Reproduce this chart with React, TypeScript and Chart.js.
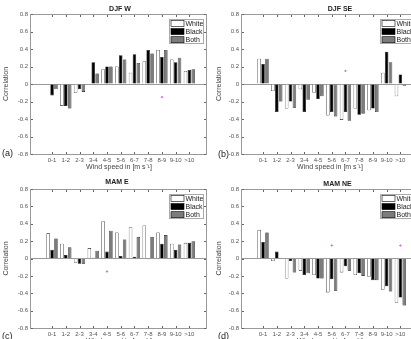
import React, { useEffect, useRef } from 'react';
import { Chart, registerables } from 'chart.js';

Chart.register(...registerables);
Chart.defaults.font.family = "'Liberation Sans', Arial, Helvetica, sans-serif";

// ---------- data ----------
const categories = ['0-1', '1-2', '2-3', '3-4', '4-5', '5-6', '6-7', '7-8', '8-9', '9-10', '>10'];
const seriesNames = ['White', 'Black', 'Both'];
const yMin = -0.8;
const yMax = 0.8;
const yStep = 0.2;

// (a) DJF W
const djfWWhite = [-0.005, -0.25, -0.1, 0.0, 0.17, 0.2, 0.13, 0.26, 0.39, 0.28, 0.15];
const djfWBlack = [-0.13, -0.25, -0.06, 0.25, 0.2, 0.33, 0.34, 0.39, 0.31, 0.25, 0.16];
const djfWBoth = [-0.06, -0.28, -0.09, 0.12, 0.2, 0.28, 0.24, 0.35, 0.39, 0.3, 0.17];
const djfWMarkCat = [9];
const djfWMarkVal = [-0.15];

// (b) DJF SE
const djfSEWhite = [0.29, -0.08, -0.28, -0.06, -0.1, -0.36, -0.41, -0.28, -0.3, 0.13, -0.14];
const djfSEBlack = [0.23, -0.32, -0.2, -0.32, -0.17, -0.32, -0.32, -0.35, -0.28, 0.37, 0.11];
const djfSEBoth = [0.29, -0.2, -0.27, -0.18, -0.14, -0.37, -0.42, -0.34, -0.32, 0.25, -0.02];
const djfSEMarkCat = [7];
const djfSEMarkVal = [0.15];

// (c) MAM E
const mamEWhite = [0.29, 0.17, -0.05, 0.12, 0.43, 0.3, 0.36, 0.38, 0.3, 0.17, 0.18];
const mamEBlack = [0.1, 0.04, -0.06, 0.01, 0.08, 0.03, 0.02, -0.01, 0.17, 0.1, 0.18];
const mamEBoth = [0.23, 0.13, -0.06, 0.09, 0.32, 0.22, 0.25, 0.25, 0.27, 0.16, 0.2];
const mamEMarkCat = [5];
const mamEMarkVal = [-0.15];

// (d) MAM NE
const mamNEWhite = [0.33, -0.03, -0.23, -0.14, -0.19, -0.39, -0.16, -0.19, -0.21, -0.36, -0.51];
const mamNEBlack = [0.19, 0.08, -0.03, -0.19, -0.23, -0.24, -0.09, -0.17, -0.25, -0.32, -0.45];
const mamNEBoth = [0.3, 0.01, -0.16, -0.17, -0.23, -0.37, -0.14, -0.2, -0.25, -0.38, -0.54];
const mamNEMarkCat = [6, 11];
const mamNEMarkVal = [0.15, 0.15];

const xTitleText = 'Wind speed in [m s\u207B\u00B9]';
const yTitleText = 'Correlation';

// ---------- styles ----------
const seriesColors = ['#ffffff', '#000000', '#7c7c7c'];
const boxColor = '#9a9a9a';
const tickTextColor = '#555555';
const darkText = '#222222';

type PanelCfg = {
  title: string;
  letter: string;
  series: number[][];
  markCat: number[];
  markVal: number[];
  left: number;
  top: number;
  width: number;
  area: { l: number; t: number; r: number; b: number };
  titleX: number;
  titleY: number;
  letterX: number;
  letterY: number;
};

const panels: PanelCfg[] = [
  {
    title: 'DJF W', letter: '(a)', series: [djfWWhite, djfWBlack, djfWBoth],
    markCat: djfWMarkCat, markVal: djfWMarkVal,
    left: 0, top: 0, width: 212, area: { l: 31, t: 14, r: 207, b: 154 },
    titleX: 120, titleY: 9.5, letterX: 2, letterY: 154,
  },
  {
    title: 'DJF SE', letter: '(b)', series: [djfSEWhite, djfSEBlack, djfSEBoth],
    markCat: djfSEMarkCat, markVal: djfSEMarkVal,
    left: 213, top: 0, width: 215, area: { l: 29, t: 14, r: 205, b: 154 },
    titleX: 127, titleY: 9.5, letterX: 5, letterY: 155,
  },
  {
    title: 'MAM E', letter: '(c)', series: [mamEWhite, mamEBlack, mamEBoth],
    markCat: mamEMarkCat, markVal: mamEMarkVal,
    left: 0, top: 175, width: 212, area: { l: 31, t: 14, r: 207, b: 153 },
    titleX: 117, titleY: 7.5, letterX: 2, letterY: 161.5,
  },
  {
    title: 'MAM NE', letter: '(d)', series: [mamNEWhite, mamNEBlack, mamNEBoth],
    markCat: mamNEMarkCat, markVal: mamNEMarkVal,
    left: 213, top: 175, width: 215, area: { l: 29, t: 14, r: 205, b: 153 },
    titleX: 124.5, titleY: 9, letterX: 5, letterY: 161.5,
  },
];

const decorPlugin = {
  id: 'decor',
  afterDraw(chart: any, _args: any, opts: any) {
    const { ctx, chartArea } = chart;
    const { left, top, right, bottom } = chartArea;
    const xs = chart.scales.x;
    const ys = chart.scales.y;
    ctx.save();
    // box
    ctx.strokeStyle = boxColor;
    ctx.lineWidth = 1;
    ctx.strokeRect(Math.round(left) - 0.5, Math.round(top) + 0.5, Math.round(right - left), Math.round(bottom - top));
    // inward ticks
    ctx.strokeStyle = '#666';
    ctx.beginPath();
    for (let i = 1; i <= categories.length; i++) {
      const px = Math.round(xs.getPixelForValue(i)) + 0.5;
      ctx.moveTo(px, bottom);
      ctx.lineTo(px, bottom - 2);
      ctx.moveTo(px, top + 1);
      ctx.lineTo(px, top + 3);
    }
    for (let v = yMin; v <= yMax + 1e-9; v += yStep) {
      const py = Math.round(ys.getPixelForValue(v)) + 0.5;
      ctx.moveTo(left, py);
      ctx.lineTo(left + 2, py);
      ctx.moveTo(right - 1, py);
      ctx.lineTo(right - 3, py);
    }
    ctx.stroke();
    // title
    ctx.fillStyle = darkText;
    ctx.font = "bold 7px 'Liberation Sans', Arial, sans-serif";
    ctx.textAlign = 'center';
    ctx.textBaseline = 'middle';
    ctx.fillText(opts.title, opts.titleX, opts.titleY);
    // letter
    ctx.font = "9px 'Liberation Sans', Arial, sans-serif";
    ctx.textAlign = 'left';
    ctx.fillText(opts.letter, opts.letterX, opts.letterY);
    // legend (inside, upper right)
    const lw = 34;
    const lh = 24;
    const lx = Math.round(right - 38) + 0.5;
    const ly = Math.round(top + 5) + 0.5;
    ctx.fillStyle = '#ffffff';
    ctx.fillRect(lx, ly, lw, lh);
    ctx.strokeStyle = '#aaaaaa';
    ctx.strokeRect(lx, ly, lw, lh);
    const ds = chart.data.datasets.filter((d: any) => d.type === 'bar');
    ds.forEach((d: any, k: number) => {
      const cy = ly + 4 + k * 8.1;
      ctx.fillStyle = d.backgroundColor;
      ctx.fillRect(lx + 1.5, cy - 3, 13, 6);
      ctx.strokeStyle = '#000';
      ctx.lineWidth = 0.6;
      ctx.strokeRect(lx + 1.5, cy - 3, 13, 6);
      ctx.fillStyle = darkText;
      ctx.font = "7px 'Liberation Sans', Arial, sans-serif";
      ctx.textAlign = 'left';
      ctx.textBaseline = 'middle';
      ctx.fillText(d.label, lx + 16, cy + 0.5);
    });
    ctx.restore();
  },
};

function Panel({ cfg }: { cfg: PanelCfg }) {
  const ref = useRef<HTMLCanvasElement>(null);
  const height = cfg.area.b + 21;
  useEffect(() => {
    const canvas = ref.current;
    if (!canvas) return;
    const barSets = cfg.series.map((vals, k) => ({
      type: 'bar' as const,
      label: seriesNames[k],
      data: vals.map((v, i) => ({ x: i + 1, y: v })),
      backgroundColor: seriesColors[k],
      borderColor: '#000000',
      borderWidth: 0.6,
      categoryPercentage: 0.85,
      barPercentage: 0.9,
      order: 2,
    }));
    const markSet = {
      type: 'scatter' as const,
      label: 'marker',
      data: cfg.markCat.map((c, i) => ({ x: c, y: cfg.markVal[i] })),
      pointRadius: 1.1,
      pointStyle: 'cross' as const,
      borderColor: '#e060e0',
      backgroundColor: '#e060e0',
      borderWidth: 1,
      order: 1,
    };
    const chart = new Chart(canvas, {
      type: 'bar',
      data: { datasets: [...barSets, markSet] as any },
      options: {
        responsive: false,
        animation: false,
        events: [],
        layout: {
          padding: { left: 0, top: cfg.area.t, right: cfg.width - cfg.area.r, bottom: 0 },
        },
        plugins: {
          legend: { display: false },
          tooltip: { enabled: false },
          title: { display: false },
          decor: {
            title: cfg.title, letter: cfg.letter,
            titleX: cfg.titleX, titleY: cfg.titleY,
            letterX: cfg.letterX, letterY: cfg.letterY,
          },
        } as any,
        scales: {
          x: {
            type: 'linear',
            min: 0,
            max: 11.75,
            grid: { display: false, drawTicks: false },
            border: { display: false },
            ticks: {
              stepSize: 1,
              includeBounds: false,
              autoSkip: false,
              maxRotation: 0,
              padding: 3,
              color: tickTextColor,
              font: { size: 6 },
              callback: (v: any) => (Number.isInteger(v) && v >= 1 && v <= categories.length ? categories[v - 1] : ''),
            },
            title: {
              display: true,
              text: xTitleText,
              color: '#444444',
              font: { size: 7 },
              padding: { top: 0, bottom: 3.3 },
            },
            afterFit: (s: any) => { s.height = height - cfg.area.b; },
          },
          y: {
            min: yMin,
            max: yMax,
            border: { display: false },
            grid: {
              drawTicks: false,
              color: (c: any) => (c.tick && Math.abs(c.tick.value) < 1e-9 ? '#9a9a9a' : 'rgba(0,0,0,0)'),
              lineWidth: 1,
            },
            ticks: {
              stepSize: yStep,
              padding: 3,
              color: tickTextColor,
              font: { size: 6 },
            },
            title: {
              display: true,
              text: yTitleText,
              color: '#444444',
              font: { size: 7 },
              padding: { top: 1.8, bottom: 0 },
            },
            afterFit: (s: any) => { s.width = cfg.area.l; },
          },
        },
      } as any,
      plugins: [decorPlugin],
    });
    return () => chart.destroy();
  }, []);
  return (
    <canvas
      ref={ref}
      width={cfg.width}
      height={height}
      style={{ position: 'absolute', left: cfg.left, top: cfg.top, width: cfg.width, height }}
    />
  );
}

export default function App() {
  return (
    <div
      style={{
        position: 'fixed', left: 0, top: 0, width: 411, height: 339,
        overflow: 'hidden', background: '#ffffff',
      }}
    >
      {panels.map((p) => (
        <Panel key={p.letter} cfg={p} />
      ))}
    </div>
  );
}
